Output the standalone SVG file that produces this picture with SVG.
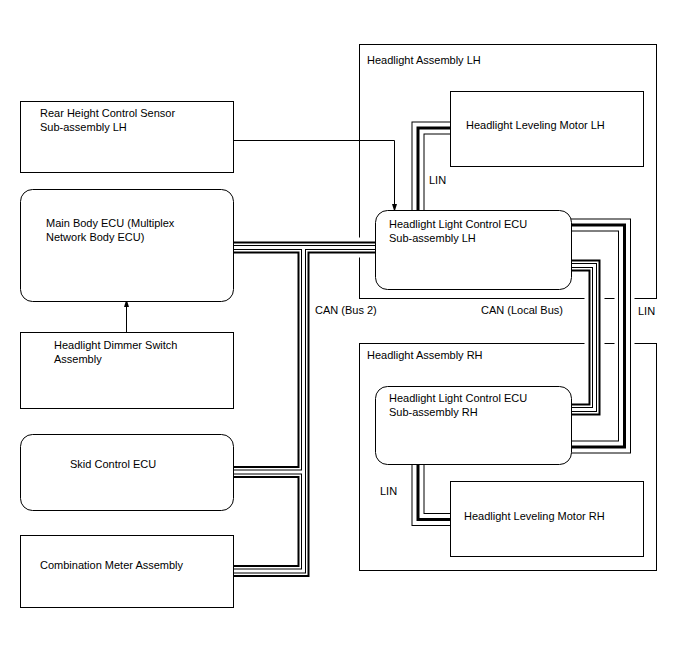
<svg xmlns="http://www.w3.org/2000/svg" width="688" height="658" viewBox="0 0 688 658">
<defs>
<style>
.box{fill:#fff;stroke:#000;stroke-width:1}
.frame{fill:none;stroke:#000;stroke-width:1}
text{font-family:"Liberation Sans",Arial,sans-serif;font-size:11px;fill:#000}
.wire{fill:none;stroke:#000;stroke-width:1}
.case{fill:none;stroke:#fff;stroke-width:20}
.c1{fill:none;stroke:#000;stroke-width:12}
.c2{fill:none;stroke:#fff;stroke-width:8}
.c3{fill:none;stroke:#000;stroke-width:5}
.c4{fill:none;stroke:#fff;stroke-width:3}
.l1{fill:none;stroke:#000;stroke-width:13}
.l2{fill:none;stroke:#fff;stroke-width:11}
.l3{fill:none;stroke:#000;stroke-width:3}
</style>
<marker id="arr" markerWidth="8" markerHeight="13" refX="8" refY="4" orient="auto" markerUnits="userSpaceOnUse" viewBox="0 0 13 8">
<path d="M0,0 L13,4 L0,8 Z" fill="#000"/>
</marker>
<path id="can2a" d="M233,247.5 H375"/>
<path id="can2b" d="M303.5,249 V571 H233"/>
<path id="can2c" d="M302,472 H233"/>
<path id="canL" d="M571,265.5 H594.5 V409.5 H571"/>
<path id="linL" d="M418,210 V128 H450"/>
<path id="linR" d="M418,464 V519.5 H450"/>
<path id="linX" d="M571,225 H624.5 V447 H571"/>
</defs>
<rect width="688" height="658" fill="#fff"/>

<g id="headlight-assembly-lh">
<rect class="frame" x="359.5" y="44.5" width="297" height="254"/>
<text x="367" y="64">Headlight Assembly LH</text>
</g>
<g id="headlight-assembly-rh">
<rect class="frame" x="359.5" y="343.5" width="297" height="227"/>
<text x="367" y="359">Headlight Assembly RH</text>
</g>

<g id="connectors">
<use href="#can2a" class="case"/><use href="#can2b" class="case"/><use href="#can2c" class="case"/>
<use href="#canL" class="case"/><use href="#linX" class="case"/>
<use href="#linL" class="case"/><use href="#linR" class="case"/>
<use href="#can2a" class="c1"/><use href="#can2b" class="c1"/><use href="#can2c" class="c1"/><use href="#canL" class="c1"/>
<use href="#can2a" class="c2"/><use href="#can2b" class="c2"/><use href="#can2c" class="c2"/><use href="#canL" class="c2"/>
<use href="#can2a" class="c3"/><use href="#can2b" class="c3"/><use href="#can2c" class="c3"/><use href="#canL" class="c3"/>
<use href="#can2a" class="c4"/><use href="#can2b" class="c4"/><use href="#can2c" class="c4"/><use href="#canL" class="c4"/>
<use href="#linL" class="l1"/><use href="#linR" class="l1"/><use href="#linX" class="l1"/>
<use href="#linL" class="l2"/><use href="#linR" class="l2"/><use href="#linX" class="l2"/>
<use href="#linL" class="l3"/><use href="#linR" class="l3"/><use href="#linX" class="l3"/>
<path class="wire" d="M233,140.5 H394.5 V209" marker-end="url(#arr)"/>
<path class="wire" d="M126.5,332 V302" marker-end="url(#arr)"/>
<text x="429" y="184">LIN</text>
<text x="315" y="314">CAN (Bus 2)</text>
<text x="481" y="314">CAN (Local Bus)</text>
<text x="638" y="315">LIN</text>
<text x="380" y="495">LIN</text>
</g>

<g id="rear-height-sensor">
<rect class="box" x="20.5" y="101.5" width="213" height="71"/>
<text x="40" y="117">Rear Height Control Sensor</text>
<text x="40" y="131">Sub-assembly LH</text>
</g>
<g id="main-body-ecu">
<rect class="box" x="20.5" y="189.5" width="213" height="112" rx="12"/>
<text x="46" y="227">Main Body ECU (Multiplex</text>
<text x="46" y="241">Network Body ECU)</text>
</g>
<g id="dimmer-switch">
<rect class="box" x="20.5" y="332.5" width="213" height="76"/>
<text x="54" y="349">Headlight Dimmer Switch</text>
<text x="54" y="363">Assembly</text>
</g>
<g id="skid-control-ecu">
<rect class="box" x="20.5" y="434.5" width="213" height="76" rx="12"/>
<text x="70" y="468">Skid Control ECU</text>
</g>
<g id="combination-meter">
<rect class="box" x="20.5" y="535.5" width="213" height="72"/>
<text x="40" y="569">Combination Meter Assembly</text>
</g>
<g id="leveling-motor-lh">
<rect class="box" x="450.5" y="91.5" width="193" height="75"/>
<text x="466" y="129">Headlight Leveling Motor LH</text>
</g>
<g id="hlc-ecu-lh">
<rect class="box" x="375.5" y="210.5" width="196" height="79" rx="12"/>
<text x="389" y="228">Headlight Light Control ECU</text>
<text x="389" y="242">Sub-assembly LH</text>
</g>
<g id="hlc-ecu-rh">
<rect class="box" x="375.5" y="386.5" width="196" height="78" rx="12"/>
<text x="389" y="402">Headlight Light Control ECU</text>
<text x="389" y="416">Sub-assembly RH</text>
</g>
<g id="leveling-motor-rh">
<rect class="box" x="450.5" y="481.5" width="193" height="75"/>
<text x="464" y="520">Headlight Leveling Motor RH</text>
</g>
</svg>
